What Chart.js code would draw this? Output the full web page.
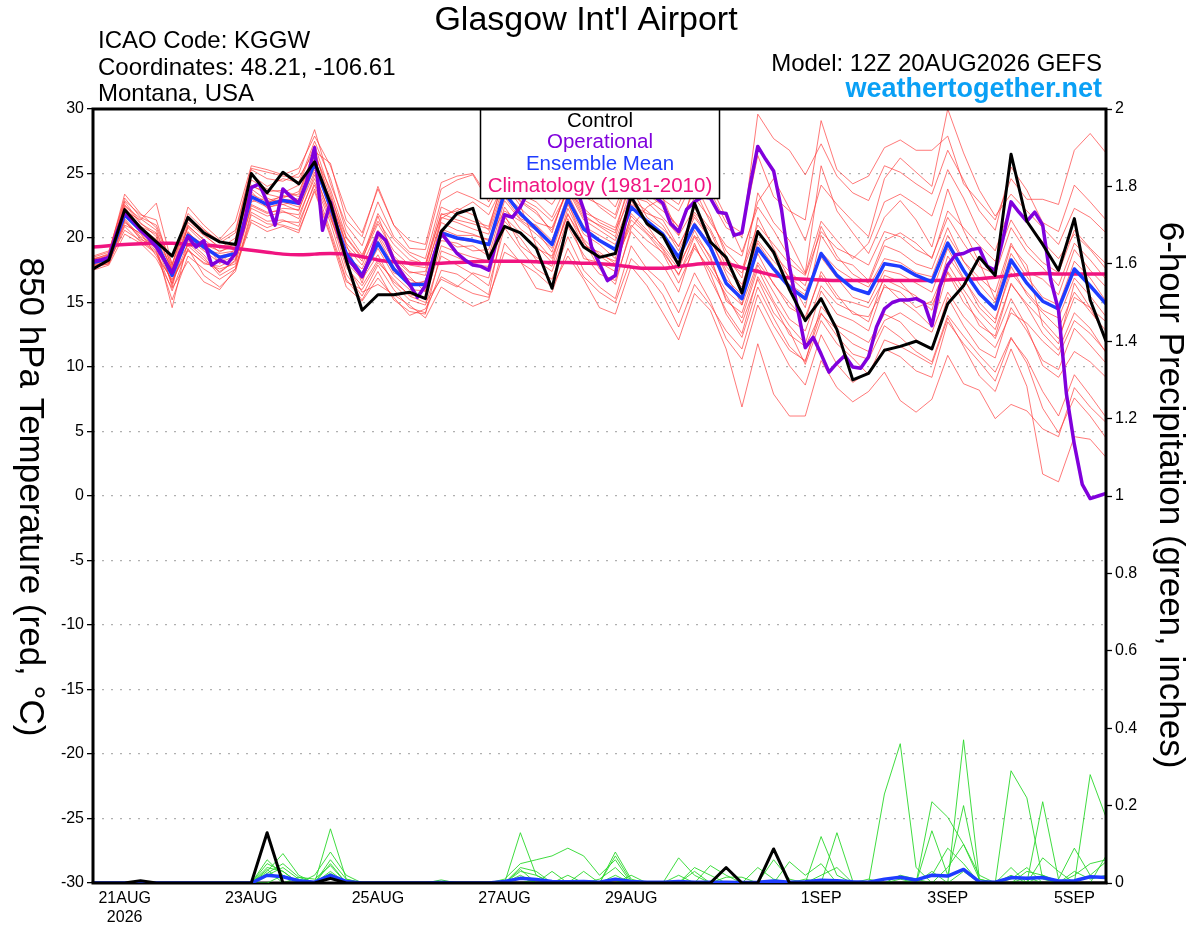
<!DOCTYPE html>
<html>
<head>
<meta charset="utf-8">
<title>Glasgow Int'l Airport - GEFS</title>
<script src="https://cdn.jsdelivr.net/npm/chart.js@4.4.1/dist/chart.umd.min.js"></script>
<style>
  html, body { margin: 0; padding: 0; background: #fff; }
  #wrap { width: 1200px; height: 927px; }
</style>
</head>
<body>
<div id="wrap"><canvas id="gefs" width="1200" height="927"></canvas></div>
<script>
// ---- text ----
const chartTitle = "Glasgow Int'l Airport"
const infoLeft = ['ICAO Code: KGGW', 'Coordinates: 48.21, -106.61', 'Montana, USA']
const modelLine = 'Model: 12Z 20AUG2026 GEFS'
const siteName = 'weathertogether.net'
const leftTitle = '850 hPa Temperature (red, \u00B0C)'
const rightTitle = '6-hour Precipitation (green, inches)'
const legendLines = ['Control', 'Operational', 'Ensemble Mean', 'Climatology (1981-2010)']

// x axis: forecast hour from 12Z 20AUG
const tickHours = [12, 60, 108, 156, 204, 276, 324, 372]
const tickLabels = [['21AUG', '2026'], '23AUG', '25AUG', '27AUG', '29AUG', '1SEP', '3SEP', '5SEP']

// ---- 850 hPa temperature, 6-hourly ----
const tempControl = [
  17.6, 18.3, 22.2, 20.8, 19.7, 18.6, 21.6, 20.4, 19.7, 19.5,
  25.0, 23.5, 25.1, 24.2, 25.9, 22.7, 18.3, 14.4, 15.6, 15.6,
  15.8, 15.3, 20.5, 21.9, 22.3, 18.4, 20.9, 20.4, 19.2, 16.1,
  21.2, 19.3, 18.5, 18.8, 23.2, 21.1, 20.2, 17.9, 22.7, 19.7,
  18.5, 15.75, 20.5, 18.9, 16.0, 13.6, 15.3, 12.9, 9.0, 9.5,
  11.3, 11.6, 12.0, 11.4, 14.9, 16.3, 18.5, 17.1, 26.5, 21.3,
  19.5, 17.5, 21.5, 15.2, 12.0]
const tempMean = [
  18.1, 18.4, 21.8, 20.6, 19.6, 17.1, 20.2, 19.3, 18.5, 18.8,
  23.2, 22.6, 22.9, 22.7, 25.8, 22.4, 18.8, 17.1, 19.6, 17.6,
  16.4, 16.4, 20.4, 20.0, 19.8, 19.5, 23.5, 21.9, 20.7, 19.5,
  23.0, 20.7, 19.8, 19.1, 22.4, 21.3, 20.3, 18.5, 21.0, 19.3,
  16.5, 15.3, 19.2, 17.6, 16.2, 15.3, 18.8, 17.1, 16.1, 15.7,
  18.0, 17.8, 17.1, 16.6, 19.6, 17.5, 15.7, 14.5, 18.3, 16.5,
  15.1, 14.5, 17.6, 16.3, 14.9]
const tempClimo = [
  19.3, 19.4, 19.5, 19.55, 19.6, 19.6, 19.5, 19.45, 19.35, 19.2,
  19.05, 18.9, 18.75, 18.7, 18.75, 18.8, 18.75, 18.55, 18.3, 18.15,
  18.05, 18.0, 18.05, 18.1, 18.15, 18.2, 18.2, 18.2, 18.15, 18.1,
  18.1, 18.05, 18.0, 17.9, 17.75, 17.65, 17.65, 17.8, 17.95, 18.05,
  18.0, 17.7, 17.4, 17.1, 16.9, 16.8, 16.75, 16.7, 16.7, 16.7,
  16.7, 16.7, 16.7, 16.7, 16.75, 16.8, 16.85, 16.95, 17.1, 17.2,
  17.25, 17.2, 17.2, 17.2, 17.2]
// operational run, 3-hourly
const tempOperational = [
  18.2, 18.3, 18.5, 20.4, 22.0, 21.4, 20.6, 20.0, 19.3, 18.3,
  17.3, 18.9, 20.1, 19.3, 19.8, 17.9, 18.3, 18.0, 18.8, 20.8,
  23.9, 24.2, 22.8, 21.0, 23.8, 23.2, 22.7, 24.4, 27.0, 20.6,
  22.8, 20.4, 18.5, 17.8, 17.0, 18.5, 20.4, 19.8, 18.3, 17.3,
  16.4, 15.4, 16.3, 18.5, 20.4, 19.6, 18.8, 18.3, 17.9, 17.8,
  17.5, 19.8, 21.8, 21.6, 22.4, 23.6, 25.0, 24.2, 24.0, 24.5,
  25.0, 24.0, 22.2, 19.3, 18.0, 16.7, 17.1, 20.4, 23.6, 23.3,
  23.5, 23.2, 22.7, 21.1, 20.5, 22.2, 22.8, 23.2, 23.1, 22.0,
  21.9, 20.2, 20.4, 24.0, 27.1, 26.1, 25.2, 22.2, 17.8, 14.6,
  11.5, 12.3, 11.0, 9.6, 10.3, 10.9, 10.0, 9.9, 10.8, 13.1,
  14.5, 15.0, 15.2, 15.2, 15.3, 15.0, 13.2, 16.2, 17.9, 18.7,
  18.8, 19.1, 19.2, 17.8, 17.5, 20.0, 22.8, 22.0, 21.3, 22.0,
  21.0, 16.8, 14.4, 7.9, 4.0, 0.9, -0.2, 0.0, 0.2]

// ensemble members
const m01 = [18.0,18.6,22.8,21.2,20.1,16.4,21.0,19.8,18.0,19.2, 24.5,23.8,23.5,24.1,27.2,23.5,19.5,16.5,20.3,18.2, 17.0,15.8,21.5,22.3,21.8,20.6,24.2,22.5,19.4,18.1, 22.3,19.8,17.6,16.4,20.8,22.4,23.1,20.2,24.3,21.8, 18.6,16.9,23.5,21.2,19.8,17.3,25.6,22.1,20.4,18.8, 21.6,22.9,21.4,19.3,23.8,20.6,18.1,15.2,19.4,17.9, 13.2,11.8,16.5,14.6,12.3]
const m02 = [17.8,18.0,21.2,20.3,19.1,17.6,19.4,18.3,17.4,18.2, 22.6,22.0,22.1,21.5,24.9,21.8,18.1,16.8,18.7,16.4, 15.2,14.8,18.6,17.9,17.2,16.3,20.8,19.1,17.6,16.8, 20.1,17.5,16.2,15.3,19.4,17.6,16.5,14.2,17.3,15.1, 12.2,10.6,14.8,12.4,10.1,8.6,12.5,10.2,8.8,9.6, 11.4,10.8,9.7,9.2,13.5,11.8,10.4,8.9,12.2,10.6, 8.1,6.2,9.4,7.8,6.1]
const m03 = [18.3,18.8,23.4,21.9,20.8,17.8,21.9,20.7,19.6,20.4, 25.3,24.6,24.4,25.0,28.4,24.2,21.0,19.4,22.8,20.1, 18.9,18.4,22.9,23.6,23.1,22.4,24.8,24.2,23.5,22.6, 24.6,23.7,22.4,21.5,25.1,24.6,23.0,22.1,24.6,23.0, 20.8,20.1,29.6,27.7,26.8,24.9,27.3,24.8,23.5,22.9, 25.6,25.1,24.2,23.4,26.8,24.5,22.1,20.6,25.5,23.7, 21.2,20.5,24.1,22.8,21.4]
const m04 = [17.9,18.2,20.6,19.8,18.9,15.2,18.6,17.6,16.8,17.6, 22.0,21.3,21.4,20.9,24.3,21.2,17.2,15.5,17.9,16.0, 14.6,14.2,17.5,17.2,16.4,15.6,21.6,20.4,19.2,18.6, 21.8,19.9,18.7,18.2,21.0,19.8,18.9,17.2,19.4,17.3, 14.1,12.3,16.2,13.8,11.6,10.4,14.7,13.2,12.6,11.9, 14.1,13.5,12.1,11.4,15.4,13.2,11.4,10.7,14.6,12.8, 10.5,9.8,13.0,11.7,10.3]
const m05 = [18.4,18.5,22.1,21.4,22.7,17.9,22.4,21.0,19.9,21.3, 25.6,25.3,24.9,25.4,27.9,25.6,22.1,20.4,23.8,21.0, 19.8,19.5,24.3,24.8,25.0,23.1,24.5,23.6,23.9,24.1, 25.3,24.2,23.7,22.4,25.4,23.8,24.0,23.3,25.2,24.1, 21.6,18.9,22.4,20.6,18.5,17.2,21.3,19.8,18.4,19.6, 22.8,23.4,22.6,21.7,25.3,23.1,20.4,19.0,22.6,21.2, 19.7,18.4,20.3,19.1,17.6]
const m06 = [18.1,18.3,21.5,20.1,19.4,14.6,19.8,18.7,17.3,18.3, 23.6,22.3,22.8,22.4,26.2,22.0,18.4,16.9,19.2,17.1, 16.0,15.9,20.1,19.3,19.4,18.6,22.9,21.4,20.6,18.9, 22.6,20.3,19.5,18.4,22.9,21.0,19.2,17.6,20.6,18.4, 15.3,13.8,17.6,15.1,13.2,11.8,15.9,14.1,13.6,12.8, 16.4,15.2,14.3,13.1,17.4,15.6,13.2,12.4,16.5,14.7, 12.6,11.3,14.2,13.0,11.1]
const m07 = [17.7,18.1,22.4,20.9,20.3,16.2,20.5,19.1,18.8,19.0, 22.8,23.1,22.6,22.9,25.3,22.8,19.6,18.2,21.7,18.6, 17.4,17.1,21.6,21.2,20.7,20.3,23.9,23.1,22.4,21.3, 23.6,22.3,21.2,20.6,23.2,22.8,21.6,20.2,22.3,20.7, 18.2,17.3,20.6,18.7,17.4,16.3,20.9,18.6,17.2,16.5, 19.4,18.9,18.0,17.6,20.8,18.2,16.9,15.8,19.6,17.4, 16.8,15.6,19.1,17.5,16.2]
const m08 = [18.2,18.6,21.9,20.7,19.7,17.4,20.8,19.6,18.3,18.9, 23.8,22.9,23.2,23.4,26.9,22.6,18.0,15.8,16.4,15.6, 14.8,13.8,16.2,15.4,14.7,15.2,19.6,18.1,17.3,16.2, 18.6,16.8,14.6,14.1,17.8,16.3,14.2,12.1,15.7,14.4, 11.4,6.9,11.8,7.9,6.2,6.2,10.5,8.4,7.3,8.1, 9.6,7.4,6.5,7.5,10.9,8.7,8.2,6.0,7.1,6.6, 5.2,4.6,8.4,6.9,5.7]
const m09 = [17.9,18.4,21.0,20.4,18.6,16.8,19.1,18.0,17.8,18.4, 22.3,21.7,22.0,21.8,24.6,21.5,18.6,17.6,20.1,17.8, 16.2,16.7,19.8,19.6,19.0,19.1,23.2,21.5,21.0,19.8, 23.4,20.9,20.2,19.5,22.6,21.9,21.4,19.3,22.0,20.5, 17.8,16.4,19.8,18.2,17.0,15.9,18.5,16.9,15.4,15.0, 17.5,17.2,16.5,15.8,19.2,16.9,14.6,13.4,17.8,15.6, 14.2,13.0,15.8,14.3,12.8]
const m10 = [18.5,18.9,23.1,21.6,21.0,18.0,21.4,20.3,19.2,20.0, 24.9,24.0,24.6,24.3,27.5,24.6,20.5,18.7,21.3,19.5, 18.3,18.0,21.8,22.1,22.8,21.8,24.3,22.8,21.9,20.6, 23.9,21.6,21.0,20.4,24.8,23.4,22.5,20.8,23.8,21.2, 19.4,18.6,22.8,24.6,22.3,19.8,24.1,22.6,21.3,20.1, 24.6,26.2,25.1,24.0,30.0,26.6,23.7,21.7,23.4,22.1, 20.8,19.5,22.3,21.6,20.4]
const m11 = [17.6,18.2,21.4,19.9,19.3,16.5,19.6,18.5,17.1,17.8, 21.4,20.8,21.3,21.2,24.1,20.6,16.8,15.2,17.4,15.2, 14.3,14.1,19.0,18.5,17.9,17.8,21.3,20.0,18.3,17.4, 20.9,18.7,17.2,16.7,20.5,19.1,17.9,15.8,19.6,16.8, 14.4,12.6,17.0,14.9,12.5,11.6,14.2,12.4,11.0,10.6, 13.2,12.3,11.2,10.4,14.0,12.4,10.9,9.6,12.3,10.3, 6.8,4.9,7.6,6.2,4.5]
const m12 = [18.2,18.7,22.5,21.5,20.6,17.3,21.2,20.2,19.3,19.5, 24.1,23.4,23.1,23.6,26.4,23.8,20.1,18.5,21.9,19.9, 18.7,17.9,22.4,21.8,21.3,20.9,24.6,22.9,22.1,20.4, 24.1,21.8,20.9,20.1,23.9,21.6,20.7,19.4,21.8,20.0, 17.2,14.8,21.6,19.2,16.8,14.6,20.2,18.3,17.9,16.7, 19.8,20.4,19.6,18.4,22.1,20.8,19.4,18.2,21.4,19.4, 18.1,17.3,20.6,19.2,18.0]
const m13 = [17.8,18.3,21.7,20.5,19.5,17.2,20.0,19.0,18.1,18.6, 23.0,22.4,22.6,22.1,25.6,22.1,18.9,17.3,19.8,17.3, 16.8,16.2,20.7,20.2,20.2,19.9,22.1,21.3,20.3,19.2, 22.8,19.6,18.6,17.8,21.4,20.3,18.8,16.5,19.2,17.6, 15.6,13.4,16.8,14.2,12.8,10.2,13.6,11.8,10.7,9.4, 12.1,11.6,10.9,10.2,13.8,11.6,9.3,8.1,11.4,8.5, 1.7,1.1,4.6,4.4,3.0]
const m14 = [18.0,18.5,22.0,20.8,19.9,17.0,20.4,19.4,18.6,18.9, 23.4,22.8,23.0,22.9,26.0,22.3,18.7,17.0,19.5,17.7, 16.5,16.6,20.6,19.9,19.7,19.6,23.7,21.7,20.9,19.6, 23.2,20.8,19.9,19.0,22.5,21.4,20.1,18.6,21.2,19.5, 16.8,15.6,18.8,16.4,15.0,13.6,17.4,15.6,14.1,13.9, 16.2,15.8,14.6,15.1,18.0,16.0,14.2,12.9,16.4,14.9, 13.6,12.2,15.4,14.6,13.5]
const m15 = [18.3,18.1,21.3,20.0,19.0,15.9,19.2,17.1,16.2,17.4, 21.8,21.1,21.0,20.6,23.6,20.1,16.2,15.1,16.9,15.4, 14.0,14.5,17.0,16.3,15.7,15.4,18.9,18.2,16.1,15.8, 19.2,17.0,15.8,15.0,18.4,17.2,15.6,13.1,16.4,14.8, 12.8,11.4,15.6,13.2,11.3,10.5,14.1,12.9,11.8,11.2, 13.6,14.2,13.4,12.7,15.8,13.9,12.6,11.5,14.2,13.4, 12.0,10.9,13.6,12.6,11.2]
const m16 = [18.6,19.0,22.9,21.8,21.4,17.5,21.6,20.6,19.8,20.6, 25.4,25.1,24.8,24.7,26.7,25.8,21.4,20.1,24.0,21.0, 19.2,19.1,23.8,24.5,24.9,22.8,25.2,24.6,23.7,23.9, 24.8,23.2,22.6,21.8,25.5,24.3,23.5,22.6,25.4,23.6, 21.2,20.4,26.4,23.2,22.1,21.4,29.1,25.3,24.2,24.8, 27.0,27.6,26.8,26.8,27.9,24.2,22.8,21.4,24.6,23.0, 23.0,22.6,26.8,28.1,26.6]
const m17 = [17.5,17.9,20.3,19.6,18.4,16.1,18.2,16.6,16.0,17.6, 21.2,20.5,20.9,20.4,23.8,20.3,16.6,16.0,18.1,16.8, 15.5,15.0,16.8,16.2,17.3,16.9,21.8,19.4,18.5,17.8, 21.5,18.4,18.1,17.4,21.9,20.6,19.4,17.9,20.2,18.6, 15.1,14.2,17.9,15.8,13.7,12.8,16.3,14.9,14.3,13.5, 17.1,16.6,15.2,14.8,17.3,15.0,13.6,12.2,15.3,13.1, 10.1,9.2,11.2,10.4,9.2]
const m18 = [18.0,18.4,22.3,20.6,19.8,17.7,20.3,19.5,19.0,19.3, 23.1,22.7,23.3,23.0,25.5,23.1,19.3,17.9,20.6,18.4, 17.3,17.4,21.2,20.6,20.3,19.8,23.3,22.3,21.2,20.8, 23.7,21.4,20.6,19.8,23.0,22.1,21.0,19.0,21.6,19.9, 17.5,16.2,19.6,17.8,16.4,15.6,18.9,17.6,16.8,16.2, 18.4,18.1,17.3,17.0,20.2,18.2,16.4,15.0,18.8,17.0, 15.4,14.8,18.2,16.9,15.1]
const m19 = [17.7,18.0,20.9,19.7,18.8,16.7,19.0,18.1,17.6,18.0, 22.5,21.9,22.3,22.2,25.1,21.7,17.7,16.3,18.3,16.6, 15.6,15.4,19.4,18.9,18.5,18.2,22.4,20.7,19.8,18.4, 21.9,19.4,18.9,18.0,21.7,20.4,19.1,17.1,20.1,18.0, 15.9,14.8,18.1,16.5,14.6,13.9,17.1,15.3,15.0,14.6, 16.8,16.2,15.5,14.4,18.6,16.8,15.0,13.7,17.3,15.8, 14.4,13.8,16.9,15.5,13.9]
const m20 = [18.4,18.7,22.6,21.1,20.4,17.5,20.9,19.9,18.9,19.6, 24.0,23.6,23.7,23.2,26.6,23.2,20.0,18.4,21.1,19.0, 17.9,17.7,21.9,21.4,21.1,20.7,24.9,23.4,22.8,21.6, 24.3,22.0,21.4,20.8,24.2,23.0,22.1,20.9,23.1,21.5, 19.0,17.6,21.0,19.5,18.0,17.1,20.5,19.2,18.6,17.9, 20.5,20.1,19.1,18.5,21.6,19.6,17.8,17.2,20.8,18.9, 17.7,16.3,19.6,18.3,16.8]
const memberTemps = [m01, m02, m03, m04, m05, m06, m07, m08, m09, m10,
                     m11, m12, m13, m14, m15, m16, m17, m18, m19, m20]

// ---- 6-hour precipitation (inches) ----
const precipControl = [
  0,0,0,0.006,0,0,0,0,0,0, 0,0.13,0,0,0,0.012,0,0,0,0,
  0,0,0,0,0,0,0,0,0,0, 0,0,0,0,0,0,0,0,0,0,
  0.04,0,0,0.088,0,0,0,0,0,0, 0,0,0,0,0,0,0,0,0,0, 0,0,0,0,0]
const precipMean = [
  0,0,0,0,0,0,0,0,0,0, 0,0.02,0.016,0.006,0.002,0.02,0.004,0,0,0,
  0,0,0.001,0,0,0,0.004,0.012,0.009,0.004, 0.003,0.004,0.002,0.01,0.004,0.002,0.002,0.004,0.002,0.002,
  0.002,0.001,0.002,0.005,0.002,0.003,0.007,0.006,0.003,0.002, 0.01,0.015,0.008,0.02,0.018,0.035,0.003,0.002,0.014,0.012,
  0.014,0.005,0.006,0.016,0.014]
const p01 = [0,0,0,0,0,0,0,0,0,0, 0,0.03,0.076,0.02,0,0.14,0.01,0,0,0, 0,0,0,0,0,0,0,0.13,0.02,0, 0,0,0,0.08,0.01,0,0,0,0,0, 0,0,0,0,0,0,0.12,0.02,0,0, 0.23,0.36,0.04,0,0,0,0,0,0.02,0, 0,0,0,0.28,0.17]
const p02 = [0,0,0,0,0,0,0,0,0,0, 0,0.05,0.03,0,0.02,0.08,0.02,0,0,0, 0,0,0,0,0,0,0.01,0.05,0.06,0.07, 0.09,0.07,0.02,0.06,0,0,0,0.065,0.02,0, 0,0,0,0,0,0,0,0,0,0, 0,0,0,0.21,0.17,0.1,0.01,0,0,0, 0.065,0.03,0,0,0]
const p03 = [0,0,0,0,0,0,0,0,0,0, 0,0.06,0.02,0,0,0.05,0,0,0,0, 0,0,0,0,0,0,0,0.03,0.02,0, 0,0,0,0.07,0.005,0,0,0,0,0.045, 0.02,0,0,0,0,0,0,0.13,0.005,0, 0,0,0,0,0,0.37,0.01,0,0.29,0.22, 0.01,0,0,0,0.07]
const p04 = [0,0,0,0,0,0,0,0,0,0, 0,0.02,0.04,0.01,0,0.03,0,0,0,0, 0,0,0.008,0,0,0,0,0.02,0,0.03, 0,0,0,0,0,0,0,0,0.04,0.02, 0,0,0,0.06,0.01,0,0,0,0,0, 0,0,0,0.135,0.02,0.2,0.003,0,0,0, 0.21,0.01,0.09,0.02,0.055]
const p05 = [0,0,0,0,0,0,0,0,0,0, 0,0.04,0.03,0,0,0.06,0.01,0,0,0, 0,0,0,0,0,0,0,0.04,0.03,0, 0,0,0.01,0.04,0,0,0,0.02,0,0, 0,0,0,0,0.055,0.02,0.05,0,0,0, 0,0,0.01,0.02,0.09,0.05,0,0,0,0.03, 0.02,0,0,0,0]
const p06 = [0,0,0,0,0,0,0,0,0,0, 0,0,0.02,0,0,0.02,0,0,0,0, 0,0,0,0,0,0,0,0,0.01,0, 0.02,0,0,0,0,0,0,0,0.03,0, 0,0,0,0,0,0,0.02,0.04,0,0, 0,0.01,0,0,0.04,0.1,0.02,0,0.01,0.04, 0,0,0.02,0.05,0.06]
const p07 = [0,0,0,0,0,0,0,0,0,0, 0,0.035,0,0.015,0.01,0.045,0,0,0,0, 0,0,0,0,0,0,0,0.015,0,0, 0,0,0,0,0.02,0,0,0,0,0, 0.015,0.015,0,0,0,0.01,0,0,0,0, 0,0.02,0.01,0,0,0.03,0,0,0.04,0, 0.02,0.005,0,0,0]
const p08 = [0,0,0,0,0,0,0,0,0,0, 0,0.025,0.05,0.015,0,0.025,0,0,0,0, 0,0,0,0,0,0,0,0.035,0,0, 0,0.03,0,0.02,0,0,0,0,0,0, 0,0,0.04,0.01,0,0,0,0,0,0.01, 0,0,0,0.03,0,0,0,0,0,0.015, 0,0,0.03,0.01,0.02]
const memberPrecip = [p01, p02, p03, p04, p05, p06, p07, p08]

// ---- colours ----
const FONT = "'Liberation Sans', Arial, Helvetica, sans-serif"
const cControl = '#000000'
const cOper = '#8000dc'
const cMean = '#1e3cff'
const cClimo = '#f01480'
const cMember = 'rgba(255,55,55,0.75)'
const cMemberP = '#2ad82a'
const cSite = '#0aa0f5'

Chart.defaults.font.family = FONT

const hours6 = tempControl.map((_, i) => i * 6)
const hours3 = tempOperational.map((_, i) => i * 3)
const toPoints = (hrs, vals) => vals.map((v, i) => ({ x: hrs[i], y: v }))

const line = (vals, hrs, color, width, axis) => ({
    data: toPoints(hrs, vals),
    borderColor: color,
    borderWidth: width,
    yAxisID: axis,
    pointRadius: 0,
    fill: false
})

// first dataset is drawn on top
let datasets = [
    line(tempControl, hours6, cControl, 3, 'y'),
    line(precipControl, hours6, cControl, 3, 'y2'),
    line(tempOperational, hours3, cOper, 3.5, 'y'),
    line(tempMean, hours6, cMean, 3.5, 'y'),
    line(precipMean, hours6, cMean, 3.5, 'y2'),
    { ...line(tempClimo, hours6, cClimo, 3.5, 'y'), tension: 0.4, cubicInterpolationMode: 'monotone' }
]
memberTemps.forEach(m => datasets.push(line(m, hours6, cMember, 0.9, 'y')))
memberPrecip.forEach(p => datasets.push(line(p, hours6, cMemberP, 0.9, 'y2')))

// header, axis titles, background
const pageText = {
    id: 'pageText',
    beforeDraw(chart) {
        const c = chart.ctx
        c.save()
        c.fillStyle = '#fff'
        c.fillRect(0, 0, chart.width, chart.height)
        c.fillStyle = '#000'
        c.textBaseline = 'alphabetic'
        c.font = `34px ${FONT}`
        c.textAlign = 'center'
        c.fillText(chartTitle, 586, 30)

        c.font = `24px ${FONT}`
        c.textAlign = 'left'
        infoLeft.forEach((t, i) => c.fillText(t, 98, 48 + i * 26.5))
        c.textAlign = 'right'
        c.fillText(modelLine, 1102, 71)
        c.font = `bold 27px ${FONT}`
        c.fillStyle = cSite
        c.fillText(siteName, 1102, 97)

        c.fillStyle = '#000'
        c.font = `35px ${FONT}`
        c.textAlign = 'center'
        c.textBaseline = 'middle'
        c.save()
        c.translate(30, 497)
        c.rotate(Math.PI / 2)
        c.fillText(leftTitle, 0, 0)
        c.restore()
        c.save()
        c.translate(1170, 495)
        c.rotate(Math.PI / 2)
        c.fillText(rightTitle, 0, 0)
        c.restore()
        c.restore()
    }
}

// plot frame and the legend box
const frameLegend = {
    id: 'frameLegend',
    beforeDatasetsDraw(chart) {
        const { ctx, chartArea: a } = chart
        ctx.save()
        ctx.strokeStyle = '#000'
        ctx.lineWidth = 3
        ctx.beginPath()
        ctx.moveTo(a.left - 1.5, a.bottom)
        ctx.lineTo(a.right + 1.5, a.bottom)
        ctx.stroke()
        ctx.restore()
    },
    afterDatasetsDraw(chart) {
        const { ctx, chartArea: a } = chart
        ctx.save()
        // legend
        ctx.fillStyle = '#fff'
        ctx.fillRect(480.5, a.top, 239, 89.5)
        ctx.strokeStyle = '#000'
        ctx.lineWidth = 1.5
        ctx.strokeRect(480.5, a.top, 239, 89.5)
        ctx.font = `20.5px ${FONT}`
        ctx.textAlign = 'center'
        ctx.textBaseline = 'middle'
        const legendColors = [cControl, cOper, cMean, cClimo]
        legendLines.forEach((t, i) => {
            ctx.fillStyle = legendColors[i]
            ctx.fillText(t, 600, 121 + i * 21.8)
        })
        // frame: left, top, right
        ctx.strokeStyle = '#000'
        ctx.lineWidth = 3
        ctx.beginPath()
        ctx.moveTo(a.left, a.bottom)
        ctx.lineTo(a.left, a.top)
        ctx.lineTo(a.right, a.top)
        ctx.lineTo(a.right, a.bottom)
        ctx.stroke()
        ctx.restore()
    }
}

new Chart(document.getElementById('gefs'), {
    type: 'line',
    data: { datasets: datasets },
    options: {
        responsive: false,
        animation: false,
        devicePixelRatio: 1,
        layout: { padding: { top: 109, left: 0, right: 0, bottom: 0 } },
        elements: { line: { tension: 0, borderJoinStyle: 'round' } },
        plugins: { legend: { display: false }, tooltip: { enabled: false } },
        scales: {
            x: {
                type: 'linear', min: 0, max: 384,
                afterFit: s => { s.height = 44 },
                afterBuildTicks: s => { s.ticks = tickHours.map(v => ({ value: v })) },
                ticks: {
                    autoSkip: false, maxRotation: 0, padding: 6, color: '#000',
                    font: { size: 16 },
                    callback: (v, i) => tickLabels[i]
                },
                grid: { display: false, drawTicks: false },
                border: { display: false }
            },
            y: {
                position: 'left', min: -30, max: 30,
                afterFit: s => { s.width = 93 },
                ticks: { stepSize: 5, color: '#000', padding: 3, font: { size: 16 } },
                grid: {
                    color: c => (c.tick && Math.abs(c.tick.value) === 30) ? 'rgba(0,0,0,0)' : '#b0b0b0',
                    lineWidth: 1.3, tickColor: '#000', tickLength: 6, tickWidth: 1.3
                },
                border: { display: false, dash: [2, 7] }
            },
            y2: {
                position: 'right', min: 0, max: 2,
                afterFit: s => { s.width = 94 },
                ticks: {
                    stepSize: 0.2, color: '#000', padding: 3, font: { size: 16 },
                    callback: v => String(Math.round(v * 10) / 10)
                },
                grid: { drawOnChartArea: false, tickColor: '#000', tickLength: 6, tickWidth: 1.3 },
                border: { display: false }
            }
        }
    },
    plugins: [pageText, frameLegend]
})
</script>
</body>
</html>
